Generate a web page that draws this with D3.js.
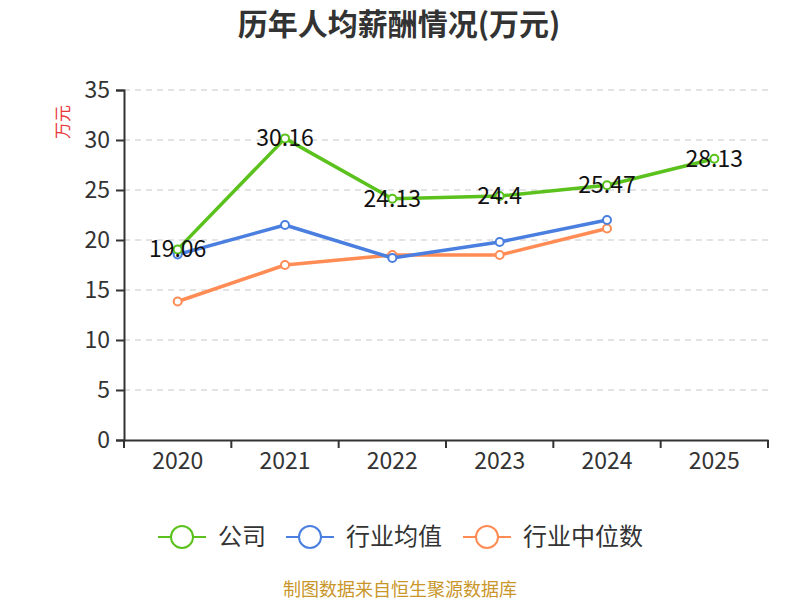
<!DOCTYPE html>
<html><head><meta charset="utf-8">
<script src="https://cdn.jsdelivr.net/npm/d3@7"></script>
<style>body{margin:0;background:#fff;font-family:"Noto Sans CJK SC","Noto Sans",sans-serif;}</style>
</head><body>
<svg id="c" width="800" height="600"></svg>
<script>
const years = ["2020","2021","2022","2023","2024","2025"];
const company = [19.06, 30.16, 24.13, 24.4, 25.47, 28.13];
const industryAvg = [18.55, 21.5, 18.2, 19.8, 22.0, null];
const industryMedian = [13.85, 17.5, 18.5, 18.5, 21.15, null];
const yTicks = [0,5,10,15,20,25,30,35];
const seriesNames = ["公司","行业均值","行业中位数"];
const colors = ["#5bc21d","#4a7fe0","#ff8c55"];

const svg = d3.select("#c");
const font = '"Noto Sans CJK SC","Noto Sans",sans-serif';
const m = {l:124, r:768, t:90, b:440};
const x = d3.scaleBand().domain(years).range([m.l, m.r]);
const y = d3.scaleLinear().domain([0,35]).range([m.b, m.t]);

svg.append("text").attr("x",399).attr("y",35).attr("text-anchor","middle")
  .attr("font-size",30).attr("font-weight","bold").attr("fill","#333").attr("font-family",font)
  .text("历年人均薪酬情况(万元)");

// grid
svg.append("g").selectAll("line").data(yTicks.filter(d=>d>0)).join("line")
  .attr("x1",m.l).attr("x2",m.r).attr("y1",d=>y(d)).attr("y2",d=>y(d))
  .attr("stroke","#c8c8c8").attr("stroke-width",1.2).attr("stroke-dasharray","6,5");

// y axis
const ya = svg.append("g").attr("transform",`translate(${m.l},0)`)
  .call(d3.axisLeft(y).tickValues(yTicks).tickSize(8).tickPadding(6));
ya.select(".domain").attr("stroke","#333").attr("stroke-width",2);
ya.selectAll(".tick line").attr("stroke","#333").attr("stroke-width",2);
ya.selectAll("text").attr("font-size",23).attr("fill","#333").attr("font-family",font);

// x axis
const xa = svg.append("g").attr("transform",`translate(0,${m.b})`)
  .call(d3.axisBottom(x).tickSize(0).tickPadding(13));
xa.select(".domain").attr("stroke","#333").attr("stroke-width",2);
xa.selectAll("text").attr("font-size",23).attr("fill","#333").attr("font-family",font);
svg.append("g").selectAll("line").data(d3.range(years.length+1)).join("line")
  .attr("x1",i=>m.l + i*x.step()).attr("x2",i=>m.l + i*x.step())
  .attr("y1",m.b).attr("y2",m.b+8).attr("stroke","#333").attr("stroke-width",2);

svg.append("text").attr("transform","translate(69,122) rotate(-90)").attr("text-anchor","middle")
  .attr("font-size",17).attr("fill","#e8383d").attr("font-family",font).text("万元");

const series = [company, industryAvg, industryMedian];
const line = d3.line().defined(d=>d.v!=null).x(d=>x(d.k)+x.bandwidth()/2).y(d=>y(d.v));
[2,1,0].forEach(si=>{
  const data = years.map((k,i)=>({k, v: series[si][i]}));
  svg.append("path").datum(data).attr("d",line).attr("fill","none")
    .attr("stroke",colors[si]).attr("stroke-width",3.5).attr("stroke-linejoin","round");
  svg.append("g").selectAll("circle").data(data.filter(d=>d.v!=null)).join("circle")
    .attr("cx",d=>x(d.k)+x.bandwidth()/2).attr("cy",d=>y(d.v)).attr("r",4)
    .attr("fill","#fff").attr("stroke",colors[si]).attr("stroke-width",2);
});
svg.append("g").selectAll("text").data(years.map((k,i)=>({k,v:company[i]}))).join("text")
  .attr("x",d=>x(d.k)+x.bandwidth()/2).attr("y",d=>y(d.v)+8).attr("text-anchor","middle")
  .attr("font-size",23).attr("fill","#111").attr("font-family",font).text(d=>d.v);

// legend
const lg = [{x:158,tx:218},{x:286,tx:346},{x:463,tx:523}];
seriesNames.forEach((n,i)=>{
  const g = svg.append("g");
  g.append("line").attr("x1",lg[i].x).attr("x2",lg[i].x+48).attr("y1",537).attr("y2",537)
    .attr("stroke",colors[i]).attr("stroke-width",2);
  g.append("circle").attr("cx",lg[i].x+24).attr("cy",537).attr("r",11)
    .attr("fill","#fff").attr("stroke",colors[i]).attr("stroke-width",2);
  g.append("text").attr("x",lg[i].tx).attr("y",545).attr("font-size",24).attr("fill","#333")
    .attr("font-family",font).text(n);
});

svg.append("text").attr("x",400).attr("y",596).attr("text-anchor","middle")
  .attr("font-size",18).attr("fill","#c9962a").attr("font-family",font).text("制图数据来自恒生聚源数据库");
</script>
</body></html>
